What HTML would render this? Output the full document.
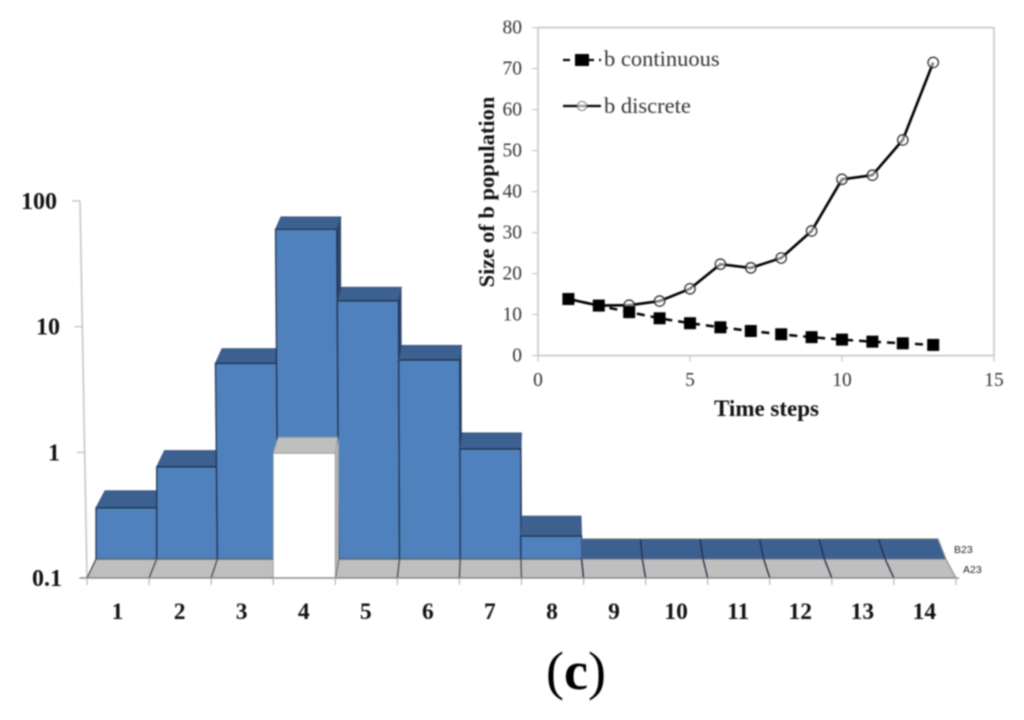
<!DOCTYPE html>
<html lang="en">
<head>
<meta charset="utf-8">
<title>Chart (c)</title>
<style>
html,body{margin:0;padding:0;background:#fff;width:1024px;height:720px;overflow:hidden}
svg{display:block;filter:blur(0.75px)}
text{font-family:"Liberation Serif",serif}
</style>
</head>
<body>
<svg id="chart" width="1024" height="720" viewBox="0 0 1024 720" xmlns="http://www.w3.org/2000/svg">
  <rect x="0" y="0" width="1024" height="720" fill="#fff"/>
  <g id="main"></g>
  <g id="inset"></g>
  <text transform="translate(494,192) rotate(-90)" text-anchor="middle" font-size="22.5" font-weight="bold" fill="#111">Size of b population</text>
  <text x="766.5" y="416" text-anchor="middle" font-size="23" font-weight="bold" fill="#111">Time steps</text>
  <text x="546" y="689" font-size="54" fill="#000">(<tspan font-weight="bold">c</tspan>)</text>
  <text x="954" y="553" font-size="10.5" fill="#222" style="font-family:'Liberation Sans',sans-serif">B23</text>
  <text x="963" y="573" font-size="10.5" fill="#222" style="font-family:'Liberation Sans',sans-serif">A23</text>
</svg>
<script>
// ---- main chart data ----
const mainCategories = ["1","2","3","4","5","6","7","8","9","10","11","12","13","14"];
const seriesB23 = [0.255,0.54,3.6,42,11.3,3.83,0.75,0.152,0.1,0.1,0.1,0.1,0.1,0.1];
const seriesA23 = [0.1,0.1,0.1,1,0.1,0.1,0.1,0.1,0.1,0.1,0.1,0.1,0.1,0.1];
const mainTicks = [0.1,1,10,100];
const mainTickLabels = ["0.1","1","10","100"];
// ---- inset chart data ----
const timeSteps = [1,2,3,4,5,6,7,8,9,10,11,12,13];
const bContinuous = [13.8,12.2,10.6,9.1,7.9,6.9,6,5.2,4.5,3.9,3.4,3,2.6];
const bDiscrete = [13.8,12.2,12.3,13.3,16.3,22.3,21.4,23.8,30.4,43,44,52.6,71.5];
const insetXTicks = [0,5,10,15];
const insetYTicks = [0,10,20,30,40,50,60,70,80];

const NS = "http://www.w3.org/2000/svg";
function mk(parent, tag, attrs, txt){
  const e = document.createElementNS(NS, tag);
  for (const k in attrs) e.setAttribute(k, attrs[k]);
  if (txt !== undefined) e.textContent = txt;
  parent.appendChild(e);
  return e;
}
function pts(a){ return a.map(p => p[0].toFixed(1) + "," + p[1].toFixed(1)).join(" "); }

// ---- main axis functions ----
const DEC = 125.7;
const frontX = i => 87 + 62.07 * i;
const midX = i => 96 + 60.7 * i;
const backX = i => 105 + 59.5 * i;
const frontY = v => 578 - DEC * Math.log10(v / 0.1);
const midY = v => 559 - DEC * Math.log10(v / 0.1);
const lean = (i, y) => (i <= 1 ? 0 : -Math.max(0.01 - (i - 2) * 0.002, 0) * (559 - y));
const depth = y => (y > 530 ? 20 : 18 - 0.017 * (559 - y));
const wallX = y => 80 + (y - 201) * 7 / 377;

const main = document.getElementById("main");
const BLUE = "#4f81bd", TOP = "#3c6090", EDGE = "#1d2f48", GRAY = "#bfbfbf";

// wall axis
const wall = mk(main, "line", {x1: wallX(201), y1: 201, x2: 87, y2: 578, stroke: "#c6c6c6", "stroke-width": 1.6});



mainTicks.forEach((t, k) => {
  const y = frontY(t);
  const x = wallX(y);
  const tick = mk(main, "line", {x1: x - 8, y1: y, x2: x, y2: y, stroke: "#bdbdbd", "stroke-width": 1.2});
  
  
  const label = mk(main, "text", {x: 60 + (k === 0 ? 2 : 0) + (k === 3 ? -3 : 0), y: y + 8, "text-anchor": "end", "font-size": 24, "font-weight": "bold", fill: "#111"}, mainTickLabels[k]);
  
  
});

// floor strip of the front row
mainCategories.forEach((c, i) => {
  const floor = mk(main, "polygon", {points: pts([[frontX(i), 578], [frontX(i + 1), 578], [midX(i + 1), 559], [midX(i), 559]]), fill: GRAY, stroke: "none"});
  
  
});

// back row bars (B23), painted left to right
mainCategories.forEach((c, i) => {
  const y = midY(seriesB23[i]);
  const d = depth(y);
  const l = lean(i, y);
  const r = lean(i + 1, y);
  const fl = midX(i) + l, fr = midX(i + 1) + r;
  const bl = backX(i) + l, br = backX(i + 1) + r;
  const top = mk(main, "polygon", {points: pts([[fl, y], [fr, y], [br, y - d], [bl, y - d]]), fill: TOP, stroke: seriesB23[i] > 0.1 ? "#2f4c74" : TOP, "stroke-width": 0.8});
  
  
  if (seriesB23[i] > 0.1) {
    const side = mk(main, "polygon", {points: pts([[fr, y], [br, y - d], [Math.max(br, midX(i + 1)) + 0.6, 559], [midX(i + 1), 559]]), fill: "#2e4668", stroke: "none"});
    
    
    const face = mk(main, "polygon", {points: pts([[fl, y], [fr, y], [midX(i + 1), 559], [midX(i), 559]]), fill: BLUE, stroke: EDGE, "stroke-width": 1.2});
    
    
  }
});

// dividers between the flat back-row bars, drawn above every top
mainCategories.forEach((c, i) => {
  if (seriesB23[i] > 0.1 || i === 13) return;
  const y = midY(seriesB23[i]);
  const div = mk(main, "line", {x1: midX(i + 1), y1: y, x2: backX(i + 1), y2: y - depth(y), stroke: EDGE, "stroke-width": 1.3});
  
  
});

// top edge line of flat bars
const flatEdge = mk(main, "line", {x1: backX(8), y1: 539, x2: backX(14), y2: 539, stroke: "#6f6f6f", "stroke-width": 1});



// floor seam
const seam = mk(main, "line", {x1: midX(0), y1: 559, x2: midX(14), y2: 559, stroke: "#777", "stroke-width": 0.8});



// front row (A23) dividers and raised bars
mainCategories.forEach((c, i) => {
  const dv = mk(main, "line", {x1: frontX(i), y1: 578, x2: midX(i), y2: 559, stroke: i < 8 ? "#4a4a4a" : "#1f2a3a", "stroke-width": 1.3});
  
  
});
const depthEdge = mk(main, "polyline", {points: pts([[frontX(14), 578], [midX(14), 559], [backX(14), 539]]), fill: "none", stroke: "#8c8c8c", "stroke-width": 1.1});



mainCategories.forEach((c, i) => {
  if (seriesA23[i] <= 0.1) return;
  const y = frontY(seriesA23[i]) + 1;
  const side = mk(main, "polygon", {points: pts([[frontX(i + 1), y], [midX(i + 1), y - 16], [midX(i + 1), 559], [frontX(i + 1), 578]]), fill: "#b5b5b5", stroke: "none"});
  
  
  const top = mk(main, "polygon", {points: pts([[frontX(i), y], [frontX(i + 1), y], [midX(i + 1) - 1, y - 16], [midX(i), y - 16]]), fill: GRAY, stroke: "#9a9a9a", "stroke-width": 0.8});
  
  
  const face = mk(main, "rect", {x: frontX(i), y: y, width: frontX(i + 1) - frontX(i), height: 578 - y, fill: "#fff", stroke: "#8a8a8a", "stroke-width": 0.7});
  
  
});

// baseline, x ticks and labels
const base = mk(main, "line", {x1: frontX(0) - 7, y1: 578, x2: frontX(14) + 3, y2: 578, stroke: "#7a7a7a", "stroke-width": 1.3});


for (let i = 0; i <= 14; i++) {
  const t = mk(main, "line", {x1: frontX(i), y1: 578, x2: frontX(i), y2: 585, stroke: "#b5b5b5", "stroke-width": 1.2});
  
  
}
mainCategories.forEach((c, i) => {
  const lb = mk(main, "text", {x: frontX(i) + 30.5, y: 619, "text-anchor": "middle", "font-size": 23.5, "font-weight": "bold", fill: "#111"}, c);
  
  
});

// ---- inset axis functions ----
const ix = v => 538 + v * 30.4;
const iy = v => 355.6 - v * 4.1;
const inset = document.getElementById("inset");

const frame = mk(inset, "polyline", {points: pts([[ix(0), iy(0)], [ix(0), iy(80)], [ix(15), iy(80)], [ix(15), iy(0)], [ix(0), iy(0)]]), fill: "none", stroke: "#cacaca", "stroke-width": 1.7});



insetYTicks.forEach(v => {
  const t = mk(inset, "line", {x1: ix(0) - 6, y1: iy(v), x2: ix(0), y2: iy(v), stroke: "#c4c4c4", "stroke-width": 1.1});
  
  
  const l = mk(inset, "text", {x: 522, y: iy(v) + 6, "text-anchor": "end", "font-size": 19.5, fill: "#333"}, String(v));
  
  
});
insetXTicks.forEach(v => {
  const t = mk(inset, "line", {x1: ix(v), y1: iy(0), x2: ix(v), y2: iy(0) + 6, stroke: "#c4c4c4", "stroke-width": 1.1});
  
  
  const l = mk(inset, "text", {x: ix(v), y: 386, "text-anchor": "middle", "font-size": 19.5, fill: "#333"}, String(v));
  
  
});

const contLine = mk(inset, "polyline", {points: pts(timeSteps.map((t, i) => [ix(t), iy(bContinuous[i])])), fill: "none", stroke: "#000", "stroke-width": 2.5, "stroke-dasharray": "8 6"});


const discLine = mk(inset, "polyline", {points: pts(timeSteps.map((t, i) => [ix(t), iy(bDiscrete[i])])), fill: "none", stroke: "#000", "stroke-width": 2.6});



timeSteps.forEach((t, i) => {
  const c = mk(inset, "circle", {cx: ix(t), cy: iy(bDiscrete[i]), r: 5.2, fill: "#fff", "fill-opacity": 0.5, stroke: "#222", "stroke-width": 1.2});
  
  
});
timeSteps.forEach((t, i) => {
  const s = mk(inset, "rect", {x: ix(t) - 6, y: iy(bContinuous[i]) - 6, width: 12, height: 12, fill: "#000"});
  
  
});

// legend
const legendLine1 = mk(inset, "line", {x1: 563, y1: 60, x2: 601, y2: 60, stroke: "#000", "stroke-width": 2.3, "stroke-dasharray": "7 5"});


const legendMark1 = mk(inset, "rect", {x: 575, y: 54, width: 14, height: 12, fill: "#000"});


const legendText1 = mk(inset, "text", {x: 604, y: 66, "font-size": 22.5, fill: "#333"}, "b continuous");


const legendLine2 = mk(inset, "line", {x1: 563, y1: 106, x2: 601, y2: 106, stroke: "#000", "stroke-width": 2.2});


const legendMark2 = mk(inset, "circle", {cx: 582, cy: 106, r: 4.6, fill: "#fff", "fill-opacity": 0.6, stroke: "#777", "stroke-width": 1});


const legendText2 = mk(inset, "text", {x: 604, y: 113, "font-size": 22.5, fill: "#333"}, "b discrete");


</script>
</body>
</html>
